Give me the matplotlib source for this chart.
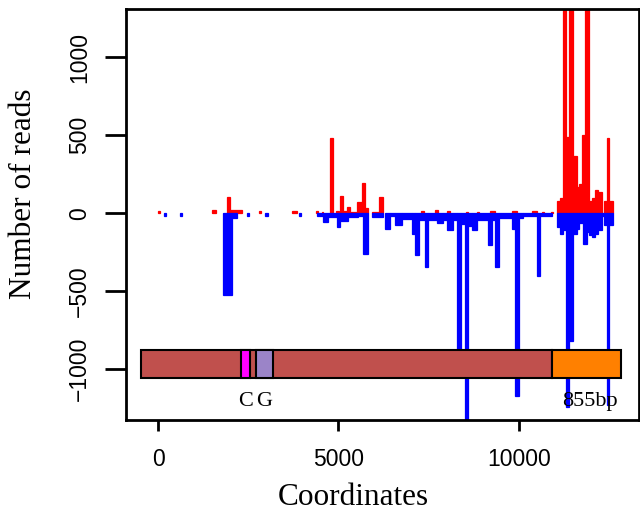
import matplotlib
matplotlib.use("Agg")
import matplotlib.pyplot as plt
from matplotlib.patches import Rectangle

# forward (red) read counts: segment start, end, reads
fwd_start = [0, 1500, 1900, 1990, 2800, 3700, 4380, 4540, 4765, 4930, 5040, 5125, 5235, 5320,
             5510, 5650, 5735, 5930, 6120, 7300, 7673, 8006, 8540, 8840, 9197, 9806, 10360,
             10650, 10900,
             11053, 11136, 11219, 11302, 11385, 11496, 11607, 11662, 11745, 11828, 11939,
             12022, 12105, 12188, 12355, 12438, 12493]
fwd_end = [60, 1600, 1990, 2330, 2860, 3860, 4440, 4580, 4850, 5015, 5125, 5235, 5320, 5510,
           5650, 5735, 5820, 6120, 6235, 7380, 7756, 8089, 8600, 8900, 9335, 9945, 10499,
           10700, 10950,
           11136, 11219, 11302, 11385, 11496, 11607, 11662, 11745, 11828, 11939, 12022,
           12105, 12188, 12299, 12438, 12493, 12604]
fwd_reads = [15, 20, 105, 18, 12, 15, 12, 10, 485, 15, 108, 15, 40, 10,
             75, 195, 35, 10, 105, 15, 20, 15, 10, 10, 15, 15, 15,
             10, 8,
             80, 100, 2000, 490, 1800, 370, 170, 190, 500, 1600, 80,
             100, 150, 135, 80, 485, 80]

# reverse (blue) read counts
rev_start = [166, 609, 1800, 2050, 2470, 2960, 3900, 4400, 4490, 4570, 4710, 4960, 5040, 5260,
             5540, 5680, 5920, 6290, 6430, 6565, 6760, 7036, 7119, 7230, 7396, 7479, 7728,
             7895, 8006, 8172, 8283, 8393, 8504, 8587, 8698, 8837, 9141, 9252, 9335, 9446,
             9806, 9889, 10000, 10111, 10499, 10582,
             11053, 11136, 11219, 11302, 11385, 11496, 11607, 11662, 11773, 11883, 11939,
             12022, 12105, 12188, 12299, 12355, 12438, 12493]
rev_end = [220, 660, 2050, 2190, 2520, 3060, 3960, 4490, 4570, 4710, 4960, 5040, 5260, 5540,
           5680, 5820, 6230, 6430, 6565, 6760, 7036, 7119, 7230, 7396, 7479, 7728, 7895,
           8006, 8172, 8283, 8393, 8504, 8587, 8698, 8837, 9141, 9252, 9335, 9446, 9806,
           9889, 10000, 10111, 10499, 10582, 10914,
           11136, 11219, 11302, 11385, 11496, 11607, 11662, 11773, 11883, 11939, 12022,
           12105, 12188, 12299, 12355, 12438, 12493, 12604]
rev_reads = [-15, -15, -525, -30, -15, -20, -15, -15, -15, -55, -25, -90, -50, -25,
             -20, -260, -25, -100, -20, -72, -35, -135, -265, -42, -342, -45, -65,
             -40, -110, -40, -1000, -70, -1400, -80, -110, -40, -205, -40, -345, -30,
             -100, -1170, -30, -20, -405, -15,
             -90, -130, -110, -1240, -820, -130, -100, -65, -195, -120, -140,
             -150, -130, -110, -20, -75, -1230, -75]

# gene model
gene_start = [-471, 10914]
gene_end = [10914, 12825]
gene_colors = ["#C0504D", "#FF8000"]
site_names = ["C", "G"]
site_start = [2299, 2715]
site_end = [2548, 3186]
site_colors = ["#FF00FF", "#9B84C8"]
extra_label = "855bp"

fig = plt.figure(figsize=(6.4, 5.25), dpi=100)
ax = fig.add_axes([0.197, 0.2, 0.801, 0.783])

fwd_w = [e - s for s, e in zip(fwd_start, fwd_end)]
rev_w = [e - s for s, e in zip(rev_start, rev_end)]
# edge in the same colour makes the bars look like R's thick "h" lines
ax.bar(fwd_start, fwd_reads, width=fwd_w, align="edge", color="#FF0000", edgecolor="#FF0000", linewidth=0.9)
ax.bar(rev_start, rev_reads, width=rev_w, align="edge", color="#0000FF", edgecolor="#0000FF", linewidth=0.9)

# boxes for the gene
y0, y1 = -1058, -878
for s, e, c in zip(gene_start, gene_end, gene_colors):
    ax.add_patch(Rectangle((s, y0), e - s, y1 - y0, facecolor=c, edgecolor="black", lw=1.5, zorder=3))
for s, e, c in zip(site_start, site_end, site_colors):
    ax.add_patch(Rectangle((s, y0), e - s, y1 - y0, facecolor=c, edgecolor="black", lw=1.5, zorder=4))
for n, s, e in zip(site_names, site_start, site_end):
    ax.text((s + e) / 2, -1205, n, ha="center", va="center", family="Liberation Serif", fontsize=16, zorder=5)
ax.text(11967, -1205, extra_label, ha="center", va="center", family="Liberation Serif", fontsize=16, zorder=5)

ax.set_xlim(-886, 13324)
ax.set_ylim(-1325, 1310)
ax.set_xticks([0, 5000, 10000])
ax.set_yticks([-1000, -500, 0, 500, 1000])
for lab in ax.get_xticklabels() + ax.get_yticklabels():
    lab.set_family("Liberation Sans")
    lab.set_fontsize(16.5)
for lab in ax.get_yticklabels():
    lab.set_rotation(90)
    lab.set_va("center")
ax.tick_params(axis="x", direction="out", length=8, width=2, pad=12)
ax.tick_params(axis="y", direction="out", length=15, width=2, pad=10)
for sp in ax.spines.values():
    sp.set_linewidth(2)

ax.set_xlabel("Coordinates", family="Liberation Serif", fontsize=22.5)
ax.set_ylabel("Number of reads", family="Liberation Serif", fontsize=22.5)
ax.xaxis.set_label_coords(0.444, -0.153)
ax.yaxis.set_label_coords(-0.171, 0.55)

fig.savefig("out.png", dpi=100)
